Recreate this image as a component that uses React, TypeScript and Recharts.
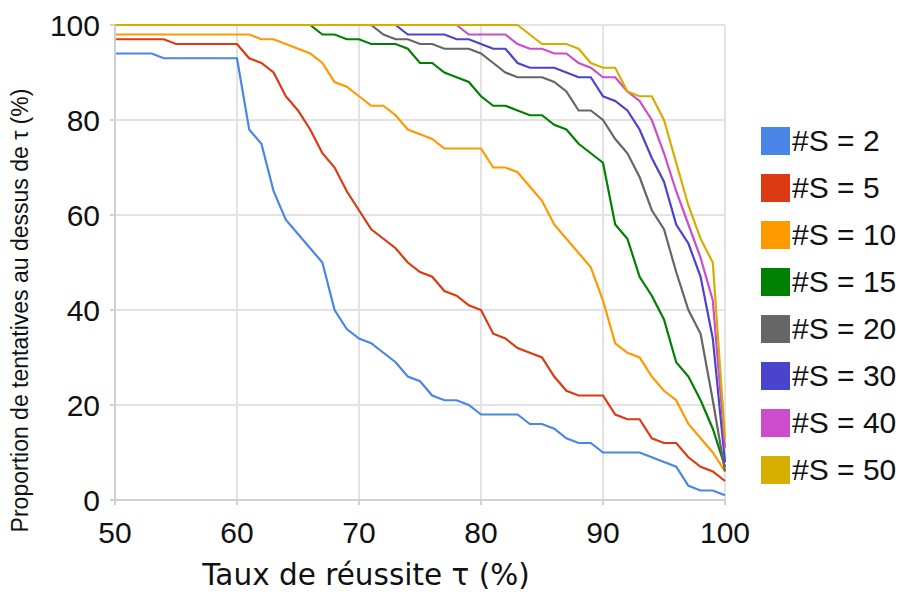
import * as React from 'react';
import { LineChart, Line, XAxis, YAxis, CartesianGrid, Label } from 'recharts';

// taux de réussite (%)
const tau = [
    50, 51, 52, 53, 54, 55, 56, 57, 58, 59,
    60, 61, 62, 63, 64, 65, 66, 67, 68, 69,
    70, 71, 72, 73, 74, 75, 76, 77, 78, 79,
    80, 81, 82, 83, 84, 85, 86, 87, 88, 89,
    90, 91, 92, 93, 94, 95, 96, 97, 98, 99,
    100,
];

const s2 = [
    94, 94, 94, 94, 93, 93, 93, 93, 93, 93,
    93, 78, 75, 65, 59, 56, 53, 50, 40, 36,
    34, 33, 31, 29, 26, 25, 22, 21, 21, 20,
    18, 18, 18, 18, 16, 16, 15, 13, 12, 12,
    10, 10, 10, 10, 9, 8, 7, 3, 2, 2,
    1,
];
const s5 = [
    97, 97, 97, 97, 97, 96, 96, 96, 96, 96,
    96, 93, 92, 90, 85, 82, 78, 73, 70, 65,
    61, 57, 55, 53, 50, 48, 47, 44, 43, 41,
    40, 35, 34, 32, 31, 30, 26, 23, 22, 22,
    22, 18, 17, 17, 13, 12, 12, 9, 7, 6,
    4,
];
const s10 = [
    98, 98, 98, 98, 98, 98, 98, 98, 98, 98,
    98, 98, 97, 97, 96, 95, 94, 92, 88, 87,
    85, 83, 83, 81, 78, 77, 76, 74, 74, 74,
    74, 70, 70, 69, 66, 63, 58, 55, 52, 49,
    42, 33, 31, 30, 26, 23, 21, 16, 13, 10,
    6,
];
const s15 = [
    100, 100, 100, 100, 100, 100, 100, 100, 100, 100,
    100, 100, 100, 100, 100, 100, 100, 98, 98, 97,
    97, 96, 96, 96, 95, 92, 92, 90, 89, 88,
    85, 83, 83, 82, 81, 81, 79, 78, 75, 73,
    71, 58, 55, 47, 43, 38, 29, 26, 21, 15,
    7,
];
const s20 = [
    100, 100, 100, 100, 100, 100, 100, 100, 100, 100,
    100, 100, 100, 100, 100, 100, 100, 100, 100, 100,
    100, 100, 98, 97, 97, 96, 96, 95, 95, 95,
    94, 92, 90, 89, 89, 89, 88, 86, 82, 82,
    80, 76, 73, 68, 61, 57, 48, 40, 35, 21,
    6,
];
const s30 = [
    100, 100, 100, 100, 100, 100, 100, 100, 100, 100,
    100, 100, 100, 100, 100, 100, 100, 100, 100, 100,
    100, 100, 100, 100, 98, 98, 98, 98, 97, 97,
    96, 95, 95, 92, 91, 91, 91, 90, 89, 89,
    85, 84, 82, 78, 72, 67, 58, 54, 47, 34,
    8,
];
const s40 = [
    100, 100, 100, 100, 100, 100, 100, 100, 100, 100,
    100, 100, 100, 100, 100, 100, 100, 100, 100, 100,
    100, 100, 100, 100, 100, 100, 100, 100, 100, 98,
    98, 98, 98, 96, 95, 95, 94, 94, 92, 91,
    89, 89, 86, 84, 80, 73, 65, 58, 51, 42,
    11,
];
const s50 = [
    100, 100, 100, 100, 100, 100, 100, 100, 100, 100,
    100, 100, 100, 100, 100, 100, 100, 100, 100, 100,
    100, 100, 100, 100, 100, 100, 100, 100, 100, 100,
    100, 100, 100, 100, 98, 96, 96, 96, 95, 92,
    91, 91, 86, 85, 85, 80, 71, 62, 55, 50,
    13,
];

const xTicks = [50, 60, 70, 80, 90, 100];
const yTicks = [0, 20, 40, 60, 80, 100];

const series = [
    { key: 's2', name: '#S = 2', color: '#4a86e8', values: s2 },
    { key: 's5', name: '#S = 5', color: '#dc3a12', values: s5 },
    { key: 's10', name: '#S = 10', color: '#ff9900', values: s10 },
    { key: 's15', name: '#S = 15', color: '#008000', values: s15 },
    { key: 's20', name: '#S = 20', color: '#666666', values: s20 },
    { key: 's30', name: '#S = 30', color: '#4a44cc', values: s30 },
    { key: 's40', name: '#S = 40', color: '#cc4ccc', values: s40 },
    { key: 's50', name: '#S = 50', color: '#d6ae00', values: s50 },
];

const data = tau.map((t, i) => {
    const row: { [k: string]: number } = { tau: t };
    series.forEach(s => { row[s.key] = s.values[i]; });
    return row;
});

const tickFont = { fontSize: 30, fill: '#111', fontFamily: '"Liberation Sans", Arial, sans-serif' };

const XTitle = (props: any) => {
    const vb = props.viewBox;
    return (
        <text x={vb.x + vb.width / 2 - 54} y={585} textAnchor="middle"
            style={{ fontSize: 29.5, fontFamily: '"DejaVu Sans", sans-serif', fill: '#111' }}>
            Taux de réussite τ (%)
        </text>
    );
};

const YTitle = (props: any) => {
    const vb = props.viewBox;
    const cx = 28;
    const cy = vb.y + vb.height / 2 + 48;
    return (
        <text x={cx} y={cy} textAnchor="middle" transform={`rotate(-90 ${cx} ${cy})`}
            style={{ fontSize: 23, fontFamily: '"Liberation Sans", Arial, sans-serif', fill: '#111' }}>
            Proportion de tentatives au dessus de τ (%)
        </text>
    );
};

export default function App() {
    return (
        <div style={{ position: 'absolute', left: 0, top: 0, width: 899, height: 592, background: '#fff' }}>
            <LineChart width={899} height={592} data={data}
                margin={{ top: 25, right: 174, bottom: 0, left: 0 }}>
                <CartesianGrid stroke="#e3e3e3" strokeWidth={2} />
                <XAxis dataKey="tau" type="number" domain={[50, 100]} ticks={xTicks}
                    height={92} tick={tickFont} tickSize={5} tickMargin={17}
                    axisLine={{ stroke: '#d0d0d0', strokeWidth: 2 }} tickLine={{ stroke: '#d0d0d0', strokeWidth: 2 }}>
                    <Label content={XTitle} />
                </XAxis>
                <YAxis type="number" domain={[0, 100]} ticks={yTicks} width={115}
                    tick={tickFont} tickSize={5} tickMargin={10}
                    axisLine={{ stroke: '#d0d0d0', strokeWidth: 2 }} tickLine={{ stroke: '#d0d0d0', strokeWidth: 2 }}>
                    <Label content={YTitle} />
                </YAxis>
                {series.map(s => (
                    <Line key={s.key} dataKey={s.key} name={s.name} stroke={s.color}
                        strokeWidth={2.2} dot={false} type="linear" isAnimationActive={false} />
                ))}
            </LineChart>
            <div style={{ position: 'absolute', left: 761, top: 117, fontFamily: '"Liberation Sans", Arial, sans-serif' }}>
                {series.map(s => (
                    <div key={s.key} style={{ display: 'flex', alignItems: 'center', height: 47 }}>
                        <div style={{ width: 29, height: 28, background: s.color, marginRight: 2 }} />
                        <span style={{ fontSize: 30, lineHeight: '30px', color: '#111', whiteSpace: 'nowrap' }}>{s.name}</span>
                    </div>
                ))}
            </div>
        </div>
    );
}
